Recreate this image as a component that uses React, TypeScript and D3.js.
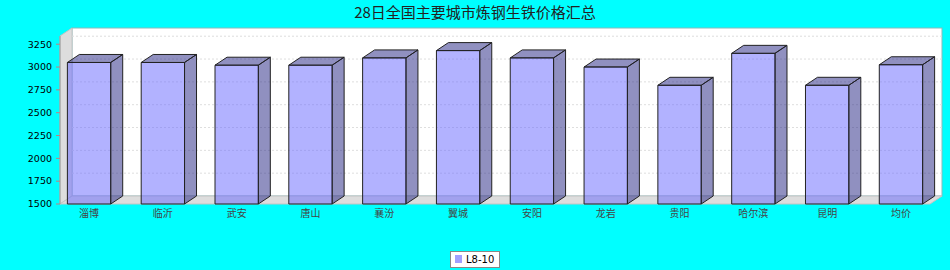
import React from "react";
import * as d3 from "d3";

const categories = ["淄博", "临沂", "武安", "唐山", "襄汾", "翼城", "安阳", "龙岩", "贵阳", "哈尔滨", "昆明", "均价"];
const values = [3050, 3050, 3020, 3020, 3100, 3180, 3100, 3000, 2800, 3150, 2800, 3025];
const yTicks = [1500, 1750, 2000, 2250, 2500, 2750, 3000, 3250];
const seriesName = "L8-10";
const title = "28日全国主要城市炼钢生铁价格汇总";

const W = 950, H = 270;
const DX = 12, DY = 8;
const left = 60, right = 930, top = 36, bottom = 204;

export default function App() {
  const x = d3.scaleBand<string>().domain(categories).range([left, right]).paddingInner(0.413).paddingOuter(0.1);
  const y = d3.scaleLinear().domain([1500, 3340]).range([bottom, top]);
  const bw = x.bandwidth();
  const pts = (a: number[][]) => a.map((p) => p.join(",")).join(" ");
  return (
    <svg width={W} height={H} style={{ position: "absolute", left: 0, top: 0, display: "block" }}>
      <rect x={0} y={0} width={W} height={H} fill="#00ffff" />
      <text x={475} y={18} textAnchor="middle" fontFamily="Noto Sans CJK SC" fontSize={15} fill="#222">{title}</text>
      {/* back wall */}
      <rect x={left + DX} y={top - DY} width={right - left} height={bottom - top} fill="#ffffff" stroke="#88bbbb" strokeWidth={1} />
      {/* left wall */}
      <polygon points={pts([[left, top], [left + DX, top - DY], [left + DX, bottom - DY], [left, bottom]])} fill="#dddddd" stroke="#c4c4c4" strokeWidth={1} />
      {/* floor */}
      <polygon points={pts([[left, bottom], [left + DX, bottom - DY], [right + DX, bottom - DY], [right, bottom]])} fill="#dddddd" stroke="#c4c4c4" strokeWidth={1} />
      {/* gridlines */}
      {yTicks.slice(1).map((t) => (
        <line key={t} x1={left + DX} x2={right + DX} y1={y(t) - DY} y2={y(t) - DY} stroke="#dedede" strokeDasharray="2,2" strokeWidth={1} />
      ))}
      {/* axis */}
      <line x1={left} x2={left} y1={top} y2={bottom} stroke="#999" />
      {yTicks.map((t) => (
        <g key={t}>
          <line x1={left - 4} x2={left} y1={y(t)} y2={y(t)} stroke="#c08080" />
          <text x={52} y={y(t)} dy="0.35em" textAnchor="end" fontFamily="DejaVu Sans" fontSize={9.5} fill="#000">{t}</text>
        </g>
      ))}
      {/* bars */}
      {categories.map((c, i) => {
        const x0 = x(c)!;
        const x1 = x0 + bw;
        const yt = y(values[i]);
        return (
          <g key={c} stroke="#222" strokeWidth={1} strokeLinejoin="round">
            <polygon points={pts([[x0, yt], [x0 + DX, yt - DY], [x1 + DX, yt - DY], [x1, yt]])} fill="#212181" fillOpacity={0.5} />
            <polygon points={pts([[x1, yt], [x1 + DX, yt - DY], [x1 + DX, bottom - DY], [x1, bottom]])} fill="#212181" fillOpacity={0.5} />
            <rect x={x0} y={yt} width={bw} height={bottom - yt} fill="#6666ff" fillOpacity={0.5} />
          </g>
        );
      })}
      {categories.map((c) => (
        <text key={c} x={x(c)! + bw / 2} y={217} textAnchor="middle" fontFamily="Noto Sans CJK SC" fontSize={10} fill="#444">{c}</text>
      ))}
      {/* legend */}
      <rect x={450.5} y={251.5} width={49} height={16} fill="#fff" stroke="#888" />
      <rect x={455} y={255} width={7} height={8} fill="#a0a0ff" />
      <text x={466} y={259.5} dy="0.35em" fontFamily="DejaVu Sans" fontSize={10} fill="#000">{seriesName}</text>
    </svg>
  );
}
